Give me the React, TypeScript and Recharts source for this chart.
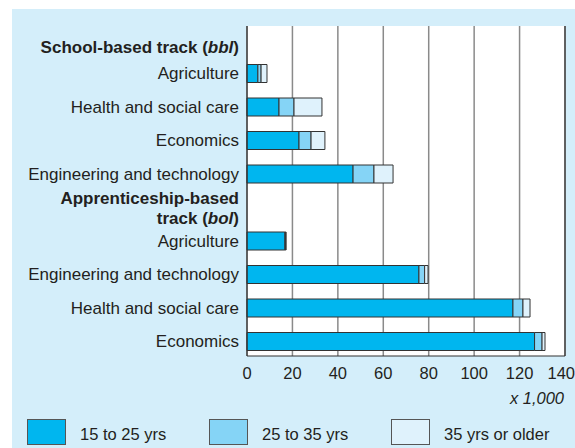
import React from "react";
import { BarChart, Bar, XAxis, YAxis, CartesianGrid, ReferenceLine } from "recharts";

const categories = [
  "School-based track (bbl)",
  "Agriculture",
  "Health and social care",
  "Economics",
  "Engineering and technology",
  "Apprenticeship-based track (bol)",
  "Agriculture",
  "Engineering and technology",
  "Health and social care",
  "Economics",
];
const isHeader = [true, false, false, false, false, true, false, false, false, false];
const age15to25 = [null, 4.8, 14.1, 22.9, 46.7, null, 16.7, 75.7, 117.1, 126.6];
const age25to35 = [null, 1.4, 6.6, 5.3, 9.2, null, 0.3, 2.5, 4.4, 3.3];
const age35plus = [null, 2.6, 12.3, 6.1, 8.4, null, 0.2, 1.5, 3.1, 1.3];
const seriesNames = ["15 to 25 yrs", "25 to 35 yrs", "35 yrs or older"];
const seriesKeys = ["a", "b", "c"];
const seriesColors = ["#00b6ef", "#85d4f6", "#dff2fc"];
const xTicks = [0, 20, 40, 60, 80, 100, 120, 140];
const unitLabel = "x 1,000";

const data = categories.map((c, i) => ({
  id: String(i),
  a: age15to25[i],
  b: age25to35[i],
  c: age35plus[i],
}));

const FONT = "'Liberation Sans', Arial, Helvetica, sans-serif";
const TEXT = "#231f20";

const YTick = (props: any) => {
  const { x, y, payload } = props;
  const i = Number(payload.value);
  const label = categories[i];
  if (isHeader[i]) {
    const m = label.match(/^(.*)\((.*)\)$/);
    const before = m ? m[1] : label;
    const it = m ? m[2] : "";
    if (i === 0) {
      return (
        <text x={x} y={y + 7.5} dy="0.35em" textAnchor="end" fontFamily={FONT} fontSize={17} fontWeight="bold" fill={TEXT}>
          <tspan>{before}(</tspan>
          <tspan fontStyle="italic">{it}</tspan>
          <tspan>)</tspan>
        </text>
      );
    }
    const parts = before.trim().split(" ");
    const line1 = parts[0];
    const line2 = parts.slice(1).join(" ");
    return (
      <g>
        <text x={x} y={y - 9.5} dy="0.35em" textAnchor="end" fontFamily={FONT} fontSize={17} fontWeight="bold" fill={TEXT}>
          {line1}
        </text>
        <text x={x} y={y + 10.5} dy="0.35em" textAnchor="end" fontFamily={FONT} fontSize={17} fontWeight="bold" fill={TEXT}>
          <tspan>{line2} (</tspan>
          <tspan fontStyle="italic">{it}</tspan>
          <tspan>)</tspan>
        </text>
      </g>
    );
  }
  return (
    <text x={x} y={y} dy="0.35em" textAnchor="end" fontFamily={FONT} fontSize={17} fill={TEXT}>
      {label}
    </text>
  );
};

const XTick = (props: any) => {
  const { x, y, payload } = props;
  const last = payload.value === xTicks[xTicks.length - 1];
  return (
    <text
      x={last ? 575 : x}
      y={y + 23}
      textAnchor={last ? "end" : "middle"}
      fontFamily={FONT}
      fontSize={16.5}
      fill={TEXT}
    >
      {payload.value}
    </text>
  );
};

const UnitLabel = (props: any) => {
  const vb = props.viewBox || {};
  return (
    <text x={vb.x + vb.width - 1} y={vb.y + 48} textAnchor="end" fontFamily={FONT} fontSize={16.5} fontStyle="italic" fill={TEXT}>
      {unitLabel}
    </text>
  );
};

export default function App() {
  return (
    <div style={{ position: "absolute", left: 0, top: 0, width: 575, height: 448, background: "#ffffff", overflow: "hidden" }}>
      <div style={{ position: "absolute", left: 12, top: 9, width: 563, height: 439, background: "#d4eefa" }} />
      <div style={{ position: "absolute", left: 0, top: 0 }}>
        <BarChart
          width={575}
          height={448}
          data={data}
          layout="vertical"
          margin={{ top: 26, right: 10, left: 0, bottom: 0 }}
          barSize={18}
        >
          <CartesianGrid horizontal={false} vertical={true} stroke="#8a8a8a" strokeWidth={1.5} fill="#ffffff" />
          <XAxis
            type="number"
            domain={[0, 140]}
            ticks={xTicks}
            interval={0}
            height={92}
            tickLine={false}
            tickSize={0}
            tickMargin={0}
            axisLine={{ stroke: "#333333", strokeWidth: 1.2 }}
            tick={<XTick />}
            label={<UnitLabel />}
          />
          <XAxis
            xAxisId="top"
            orientation="top"
            type="number"
            domain={[0, 140]}
            height={0}
            tick={false}
            tickLine={false}
            axisLine={{ stroke: "#333333", strokeWidth: 1.2 }}
          />
          <YAxis
            type="category"
            dataKey="id"
            width={247}
            interval={0}
            tickLine={false}
            axisLine={{ stroke: "#333333", strokeWidth: 1.2 }}
            tick={<YTick />}
            padding={{ top: -3, bottom: -2 }}
          />
          <ReferenceLine x={140} stroke="#333333" strokeWidth={1.2} />
          {seriesKeys.map((k, i) => (
            <Bar
              key={k}
              dataKey={k}
              name={seriesNames[i]}
              stackId="s"
              fill={seriesColors[i]}
              stroke="#333333"
              strokeWidth={1}
              isAnimationActive={false}
            />
          ))}
        </BarChart>
      </div>
      {seriesNames.map((n, i) => (
        <div key={n}>
          <div
            style={{
              position: "absolute",
              left: [27, 209, 391][i],
              top: 419,
              width: 37,
              height: 24,
              background: seriesColors[i],
              border: "1px solid #555555",
            }}
          />
          <div
            style={{
              position: "absolute",
              left: [80, 262, 444][i],
              top: 424,
              fontFamily: FONT,
              fontSize: 16.5,
              color: TEXT,
              lineHeight: "20px",
              whiteSpace: "nowrap",
            }}
          >
            {n}
          </div>
        </div>
      ))}
    </div>
  );
}
